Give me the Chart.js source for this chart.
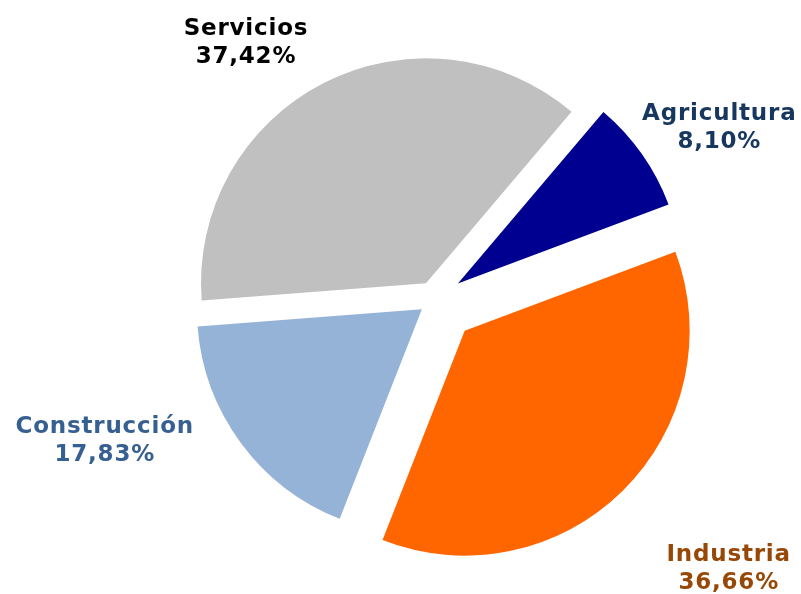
<!DOCTYPE html>
<html>
<head>
<meta charset="utf-8">
<script src="https://cdn.jsdelivr.net/npm/chart.js@4.4.0/dist/chart.umd.min.js"></script>
<style>
html, body { margin: 0; padding: 0; background: #fff; }
#wrap { width: 801px; height: 594px; }
</style>
</head>
<body>
<div id="wrap"><canvas id="sectorChart" width="801" height="594"></canvas></div>
<script>
// sector shares (%)
const sectors = ['Agricultura', 'Industria', 'Construcción', 'Servicios'];
const shares = [8.10, 36.66, 17.83, 37.42];

const sliceColors = ['#000090', '#FF6600', '#95B3D7', '#C0C0C0'];
const labelColors = ['#17375E', '#974806', '#376092', '#000000'];
const explode = [28.6, 43, 15.7, 18.7]; // px each slice is pulled out
// label placement: radius factor from slice apex, angle nudge in degrees
const labelPlace = [
    { r: 1.36, a: 3.8 },
    { r: 1.57, a: -3.8 },
    { r: 1.52, a: 14.5 },
    { r: 1.35, a: -9.3 }
];

function fmtPct(v) {
    return v.toFixed(2).replace('.', ',') + '%';
}

const explodePlugin = {
    id: 'explode',
    afterDatasetsUpdate(chart) {
        const meta = chart.getDatasetMeta(0);
        meta.data.forEach((arc, i) => {
            const mid = (arc.startAngle + arc.endAngle) / 2;
            arc.x += Math.cos(mid) * explode[i];
            arc.y += Math.sin(mid) * explode[i];
        });
    }
};

const labelPlugin = {
    id: 'sliceLabels',
    afterDatasetsDraw(chart) {
        const ctx = chart.ctx;
        const meta = chart.getDatasetMeta(0);
        ctx.save();
        ctx.font = 'bold 23px "DejaVu Sans", Verdana, sans-serif';
        ctx.letterSpacing = '0.8px';
        ctx.textAlign = 'center';
        ctx.textBaseline = 'alphabetic';
        meta.data.forEach((arc, i) => {
            const p = labelPlace[i];
            const ang = (arc.startAngle + arc.endAngle) / 2 + p.a * Math.PI / 180;
            const r = arc.outerRadius * p.r;
            const x = arc.x + Math.cos(ang) * r;
            const y = arc.y + Math.sin(ang) * r;
            ctx.fillStyle = labelColors[i];
            ctx.fillText(sectors[i], x, y - 4);
            ctx.fillText(fmtPct(shares[i]), x, y + 24);
        });
        ctx.restore();
    }
};

const ctx = document.getElementById('sectorChart').getContext('2d');
const sectorChart = new Chart(ctx, {
    type: 'pie',
    data: {
        labels: sectors,
        datasets: [{
            data: shares,
            backgroundColor: sliceColors,
            borderWidth: 0
        }]
    },
    options: {
        responsive: false,
        animation: false,
        rotation: 40.3,
        radius: 225,
        layout: { padding: { left: 68, right: 0, top: 6, bottom: 0 } },
        plugins: {
            legend: { display: false },
            tooltip: { enabled: false }
        }
    },
    plugins: [explodePlugin, labelPlugin]
});
</script>
</body>
</html>
